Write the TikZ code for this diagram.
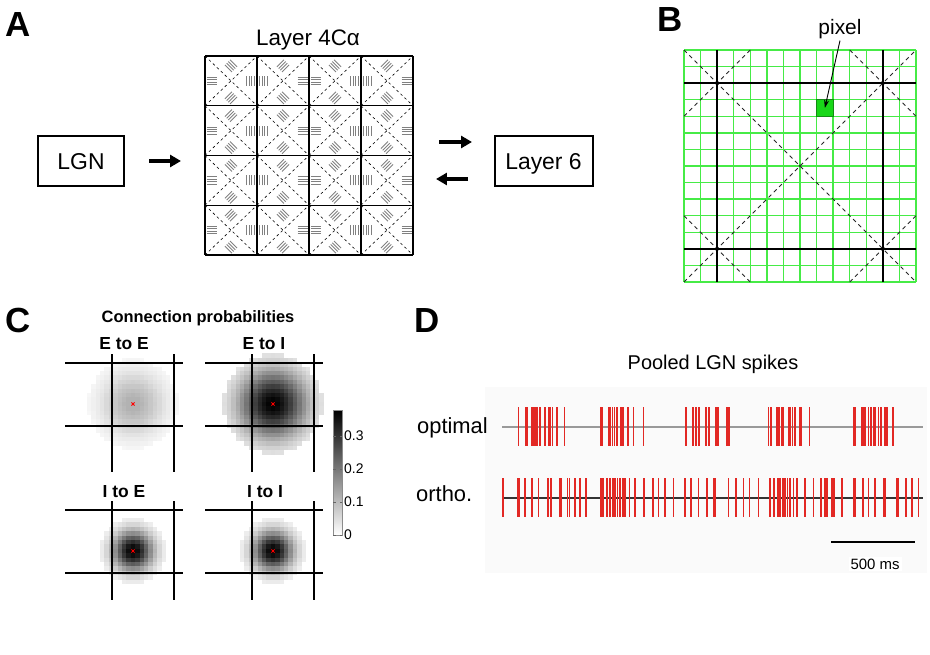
\documentclass[tikz,border=0pt]{standalone}
\usepackage{fontspec}
\setmainfont{Liberation Sans}
\usetikzlibrary{arrows.meta}
\definecolor{spikered}{RGB}{226,40,36}
\definecolor{gridgreen}{RGB}{70,235,70}
\definecolor{pixgreen}{RGB}{25,215,25}
\definecolor{pixborder}{RGB}{20,140,20}
\newcommand\gratpatch[3]{%
  \foreach \gof in {-3.6,-1.2,1.2,3.6}{%
    \draw[gratline, shift={(#1,#2)}, rotate=#3] (-5,\gof) -- (5,\gof);}}
\newcommand\heatmap[5]{%
  \pgfmathtruncatemacro\hmN{ceil(#5/4.4)}%
  \foreach \hi in {-\hmN,...,\hmN}{%
    \foreach \hj in {-\hmN,...,\hmN}{%
      \pgfmathsetmacro\hmr{sqrt((\hi*4.4)^2+(\hj*4.4)^2)}%
      \ifdim\hmr pt<#5pt\relax
        \pgfmathtruncatemacro\hmp{min(100,100*#3*exp(-(\hmr*\hmr)/(2*#4*#4))/0.38)}%
        \fill[black!\hmp] (#1+\hi*4.4-2.25,#2+\hj*4.4-2.25) rectangle ++(4.5,4.5);%
      \fi
    }}}
\newcommand\cframe[3]{% cx cy bottom-offset
  \draw[plotline] (#1-21,#2-50) -- (#1-21,#2+#3);
  \draw[plotline] (#1+41,#2-50) -- (#1+41,#2+#3);
  \draw[plotline] (#1-68,#2-41) -- (#1+50,#2-41);
  \draw[plotline] (#1-68,#2+22) -- (#1+50,#2+22);
  \draw[red, line width=0.9pt] (#1-1.6,#2-1.6) -- (#1+1.6,#2+1.6) (#1-1.6,#2+1.6) -- (#1+1.6,#2-1.6);}
\begin{document}
\begin{tikzpicture}[x=1bp,y=-1bp,
  panel/.style={font=\fontsize{35}{35}\selectfont\bfseries, anchor=base west, inner sep=0pt},
  boxnode/.style={draw, line width=2pt, inner sep=0pt, minimum height=50bp, text height=16.5pt, text depth=0pt, font=\fontsize{23}{26}\selectfont},
  bigarrow/.style={line width=3.5pt, -{Triangle[length=11pt,width=12pt]}},
  celldiag/.style={line width=0.6pt, dash pattern=on 2.5pt off 3pt},
  gratline/.style={line width=0.95pt, black!50},
  gridthick/.style={line width=1.3pt},
  greenline/.style={gridgreen, line width=1.4bp},
  blackgrid/.style={black, line width=1.6pt},
  bdash/.style={black!85, line width=0.8pt, dash pattern=on 4pt off 3.5pt},
  plotline/.style={black, line width=1.1pt},
  cbtitle/.style={font=\fontsize{17.5}{20}\selectfont\bfseries, anchor=base, inner sep=0pt},
  cblabel/.style={font=\fontsize{14}{16}\selectfont, anchor=west, inner sep=0pt},
  spike/.style={draw=spikered, line width=1.6bp},
  txt/.style={inner sep=0pt}
]
\useasboundingbox (0,0) rectangle (930,655);

% ---------------- Panel A ----------------
\node[panel] (pA) at (5,37) {A};
\node[boxnode, minimum width=86bp] (lgn) at (81,161) {LGN};
\node[boxnode, minimum width=98bp] (l6) at (543.5,161) {Layer 6};
\node[inner sep=0pt, minimum width=208bp, minimum height=199bp] (l4) at (309,155.5) {};
\node[txt, anchor=base, font=\fontsize{22.5}{26}\selectfont] (l4lbl) at (308,46) {Layer 4Cα};

\foreach \r in {0,...,3}{
  \foreach \c in {0,...,3}{
    \pgfmathsetmacro\xa{205+52*\c}
    \pgfmathsetmacro\ya{56+49.75*\r}
    \pgfmathsetmacro\cx{\xa+26}
    \pgfmathsetmacro\cy{\ya+24.875}
    \draw[celldiag] (\xa,\ya) -- (\xa+52,\ya+49.75) (\xa,\ya+49.75) -- (\xa+52,\ya);
    \pgfmathsetmacro\tang{ifthenelse(mod(\r+\c,2)==0,-45,45)}
    \pgfmathsetmacro\bang{ifthenelse(mod(\r+\c,2)==0,45,-45)}
    \pgfmathsetmacro\lang{ifthenelse(mod(\c,2)==0,0,90)}
    \pgfmathsetmacro\rang{ifthenelse(mod(\c,2)==0,90,0)}
    \gratpatch{\cx}{\cy-15}{\tang}
    \gratpatch{\cx}{\cy+17}{\bang}
    \gratpatch{\cx-19.5}{\cy}{\lang}
    \gratpatch{\cx+19.5}{\cy}{\rang}
  }}
\foreach \k in {0,...,4}{
  \draw[gridthick] (205+52*\k,56) -- (205+52*\k,255);
  \draw[gridthick] (205,56+49.75*\k) -- (413,56+49.75*\k);
}
\coordinate (a1s) at (149,161);
\coordinate (a1e) at (181,161);
\coordinate (a2s) at (439,142);
\coordinate (a2e) at (472,142);
\coordinate (a3s) at (468,179);
\coordinate (a3e) at (436,179);
\draw[bigarrow] (a1s) -- (a1e);
\draw[bigarrow] (a2s) -- (a2e);
\draw[bigarrow] (a3s) -- (a3e);

% ---------------- Panel B ----------------
\node[panel] (pB) at (657,32) {B};
\begin{scope}[shift={(684,50)}, x=16.57bp, y=-16.57bp]
  \foreach \g in {0,...,14}{
    \draw[greenline] (\g,0) -- (\g,14);
    \draw[greenline] (0,\g) -- (14,\g);
  }
  \node[draw=pixborder, fill=pixgreen, minimum size=16.57bp, inner sep=0pt, line width=0.6pt] (pix) at (8.5,3.5) {};
  \draw[bdash] (0,0) -- (14,14);
  \draw[bdash] (0,14) -- (14,0);
  \draw[bdash] (4,0) -- (0,4);
  \draw[bdash] (10,0) -- (14,4);
  \draw[bdash] (0,10) -- (4,14);
  \draw[bdash] (10,14) -- (14,10);
  \draw[blackgrid] (2,0) -- (2,14);
  \draw[blackgrid] (12,0) -- (12,14);
  \draw[blackgrid] (0,2) -- (14,2);
  \draw[blackgrid] (0,12) -- (14,12);
  \fill[black!80] (7,7) circle (1.5pt);
\end{scope}
\node[anchor=base, inner sep=1pt, font=\fontsize{21}{24}\selectfont] (pixlbl) at (840,35) {pixel};
\draw[line width=0.9pt, -{Stealth[length=8pt,width=5pt]}] (pixlbl.south) -- (pix.center);

% ---------------- Panel C ----------------
\node[panel] (pC) at (5,332) {C};
\node[txt, anchor=base, font=\fontsize{16.5}{19}\selectfont\bfseries] (cptitle) at (198,322) {Connection probabilities};
\node[cbtitle] (tEE) at (124,349) {E to E};
\node[cbtitle] (tEI) at (264,349) {E to I};
\node[cbtitle] (tIE) at (124,497) {I to E};
\node[cbtitle] (tII) at (265,497) {I to I};

\heatmap{133}{404}{0.12}{22}{45}
\heatmap{273}{404}{0.38}{24}{50}
\heatmap{133}{551}{0.38}{14}{33}
\heatmap{273}{551}{0.38}{14}{33}
\cframe{133}{404}{68}
\cframe{273}{404}{68}
\cframe{133}{551}{49}
\cframe{273}{551}{49}

\shade[top color=black, bottom color=white] (333,410) rectangle (342,535);
\draw[black!45, line width=0.6pt] (333,410) rectangle (342,535);
\foreach \v in {0,0.1,0.2,0.3}{
  \draw[black!60, line width=0.6pt] (342,535-330*\v) -- (339.5,535-330*\v);
  \draw[black!60, line width=0.6pt] (333,535-330*\v) -- (335.5,535-330*\v);
}
\node[cblabel] (cb3) at (344,436) {0.3};
\node[cblabel] (cb2) at (344,469) {0.2};
\node[cblabel] (cb1) at (344,502) {0.1};
\node[cblabel] (cb0) at (344,535) {0};

% ---------------- Panel D ----------------
\node[panel] (pD) at (414,332) {D};
\node[txt, anchor=base, font=\fontsize{20}{24}\selectfont] (dtitle) at (713,369) {Pooled LGN spikes};
\fill[black!2] (485,387) rectangle (927,573);
\node[txt, anchor=base east, font=\fontsize{22}{26}\selectfont] (optl) at (488,433) {optimal};
\node[txt, anchor=base west, font=\fontsize{22}{26}\selectfont] (orthl) at (416,501) {ortho.};
\draw[black!40, line width=1.1bp] (502,427) -- (923,427);
\foreach \s in {518.3,526,527.3,531.7,532.7,535,536.7,540,544.3,545,548.3,550,552.3,556.7,564.3,
  601,602.3,608.3,610,612.3,614.3,616.7,620.7,621.7,623.3,627.7,633.3,643.3,
  685.7,693,695.7,698.3,699.3,705.7,709,716,717.7,726.7,729,
  768.3,770.7,776.7,779,781.7,783.3,788.3,790,792.3,795,799.3,801,809.3,
  853.3,855,861.7,863.3,865,868.3,870.7,873.3,875,878.3,880.7,885,886.7,892.7}{
  \draw[spike] (\s,407) -- (\s,446);
}
\draw[black!80, line width=1.1bp] (502,498) -- (923,498);
\foreach \s in {502.7,517.7,519.3,525,531.7,538.3,547.7,550.7,559.3,560.7,567.3,569.3,575,580,586,
  600.7,602.7,606.7,610,612.7,615,617.3,620,622.7,625,629.3,635,644,652.7,658.3,665,673.3,
  685,690.7,698.3,706.7,713.3,715,728.3,736,743.3,749.3,758.3,
  770,774,777.7,780,782.7,785,787.3,790,793.3,796.7,805,813.3,820.7,825,826.7,831.7,834,841.7,
  853.3,855,862.7,868.3,875,883.3,885,896.7,898.3,906,911.7,918.3}{
  \draw[spike] (\s,478) -- (\s,517);
}
\coordinate (sbl) at (831,542);
\coordinate (sbr) at (915,542);
\draw[line width=3pt] (sbl) -- (sbr);
\node[anchor=base, fill=white, inner sep=2pt, font=\fontsize{15}{17}\selectfont] (sblbl) at (875,569) {500 ms};
\end{tikzpicture}
\end{document}
